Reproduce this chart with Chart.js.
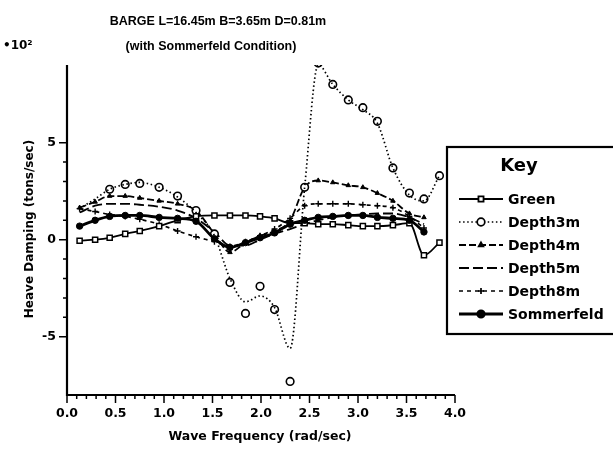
<!DOCTYPE html>
<html><head><meta charset="utf-8">
<script src="https://cdn.jsdelivr.net/npm/chart.js@4"></script>
<style>html,body{margin:0;padding:0;background:#fff}#c{display:block}</style>
</head><body>
<canvas id="c" width="613" height="456"></canvas>
<script>
// ---- data ----
const FREQ = [0.13,0.29,0.44,0.6,0.75,0.95,1.14,1.33,1.52,1.68,1.84,1.99,2.14,2.3,2.45,2.59,2.74,2.9,3.05,3.2,3.36,3.53,3.68,3.84];
const GREEN = [-0.05,0.0,0.1,0.3,0.45,0.7,1.0,1.2,1.25,1.25,1.25,1.2,1.1,0.85,0.85,0.8,0.8,0.75,0.7,0.7,0.75,0.85,-0.8,-0.15];
const DEPTH3M_CURVE = [1.6,2.1,2.6,2.85,2.95,2.7,2.2,1.4,0.2,-2.0,-3.2,-2.9,-3.5,-5.6,2.7,9.0,8.0,7.2,6.7,6.0,3.7,2.3,2.0,3.3];
const DEPTH3M_MARKS = [null,null,2.6,2.85,2.9,2.7,2.25,1.5,0.3,-2.2,-3.8,-2.4,-3.6,-7.3,2.7,9.1,8.0,7.2,6.8,6.1,3.7,2.4,2.1,3.3];
const DEPTH4M = [1.65,1.95,2.25,2.25,2.15,2.0,1.85,1.5,0.3,-0.65,-0.15,0.2,0.45,1.0,2.7,3.05,2.95,2.8,2.7,2.4,2.0,1.35,1.15];
const DEPTH5M = [1.4,1.75,1.85,1.85,1.8,1.7,1.5,1.1,0.4,-0.3,-0.3,0.0,0.3,0.55,0.8,1.0,1.15,1.25,1.3,1.35,1.35,1.15,0.8];
const DEPTH8M = [1.6,1.45,1.3,1.2,1.05,0.8,0.45,0.15,-0.1,-0.35,-0.1,0.2,0.55,1.1,1.75,1.85,1.85,1.85,1.8,1.75,1.65,1.2,0.6];
const SOMMERFELD = [0.7,1.0,1.2,1.25,1.25,1.15,1.1,0.95,0.05,-0.4,-0.15,0.1,0.35,0.8,1.0,1.15,1.2,1.25,1.25,1.15,1.1,1.0,0.4];
const X_LABELED = [0.0,0.5,1.0,1.5,2.0,2.5,3.0,3.5,4.0];
const Y_LABELED = [-5,0,5];
const TITLE_1 = 'BARGE L=16.45m B=3.65m D=0.81m';
const TITLE_2 = '(with Sommerfeld Condition)';
const Y_TITLE = 'Heave Damping (tons/sec)';
const X_TITLE = 'Wave Frequency (rad/sec)';
const Y_MULT = '•10²';
const LEGEND_TITLE = 'Key';
const SERIES_NAMES = ['Green','Depth3m','Depth4m','Depth5m','Depth8m','Sommerfeld'];

const pts = arr => arr.map((v,i)=>({x:FREQ[i], y:v}));

const styles = {
  Green:     {borderWidth:1.8, dash:[], pointStyle:'rect', r:3.6, fill:'#fff', pbw:1.5},
  Depth3m:   {borderWidth:1.7, dash:[1.5,2.6], pointStyle:'circle', r:3.8, fill:'#fff', pbw:1.6},
  Depth4m:   {borderWidth:1.8, dash:[7,3], pointStyle:'triangle', r:2.6, fill:'#000', pbw:1},
  Depth5m:   {borderWidth:1.8, dash:[10,4], pointStyle:false, r:0, fill:'#000', pbw:1},
  Depth8m:   {borderWidth:1.7, dash:[4,4], pointStyle:'cross', r:3, fill:'#000', pbw:1.4},
  Sommerfeld:{borderWidth:2.8, dash:[], pointStyle:'circle', r:3.2, fill:'#000', pbw:1}
};
function ds(name, data, extra){
  const s = styles[name];
  return Object.assign({label:name, data:pts(data), borderColor:'#000', borderWidth:s.borderWidth,
    borderDash:s.dash, pointStyle:s.pointStyle||'circle', pointRadius:s.r, pointBackgroundColor:s.fill,
    pointBorderColor:'#000', pointBorderWidth:s.pbw, cubicInterpolationMode:'monotone', fill:false}, extra||{});
}
const datasets = [
  ds('Sommerfeld', SOMMERFELD),
  ds('Green', GREEN),
  ds('Depth3m', DEPTH3M_CURVE, {pointRadius:0}),
  Object.assign(ds('Depth3m', DEPTH3M_MARKS), {label:'Depth3m points', showLine:false}),
  ds('Depth4m', DEPTH4M),
  ds('Depth5m', DEPTH5M),
  ds('Depth8m', DEPTH8M)
];

const decor = {
  id:'decor',
  afterDraw(chart){
    const {ctx, chartArea:a, scales:{x, y}} = chart;
    ctx.save();
    ctx.strokeStyle = '#000'; ctx.fillStyle = '#000';
    // axis lines
    ctx.lineWidth = 2.2;
    ctx.beginPath();
    ctx.moveTo(a.left, a.top); ctx.lineTo(a.left, a.bottom); ctx.lineTo(a.right, a.bottom);
    ctx.stroke();
    // tick marks
    ctx.lineWidth = 1.5;
    ctx.beginPath();
    x.ticks.forEach(t=>{
      const px = x.getPixelForValue(t.value);
      const major = X_LABELED.some(v=>Math.abs(v-t.value)<1e-6);
      ctx.moveTo(px, a.bottom); ctx.lineTo(px, a.bottom + (major?8:4));
    });
    y.ticks.forEach(t=>{
      if (Math.abs(t.value) > 5.0001) return;
      const py = y.getPixelForValue(t.value);
      const major = Y_LABELED.some(v=>Math.abs(v-t.value)<1e-6);
      ctx.moveTo(a.left, py); ctx.lineTo(a.left - (major?8:4), py);
    });
    ctx.stroke();
    // titles
    ctx.textAlign = 'center'; ctx.textBaseline = 'middle';
    ctx.font = 'bold 12.5px "Liberation Sans"';
    ctx.fillText(TITLE_1, 218, 22);
    ctx.fillText(TITLE_2, 211, 47);
    ctx.textAlign = 'left';
    ctx.font = 'bold 12px "DejaVu Sans"';
    ctx.fillText(Y_MULT, 3, 46);
    ctx.textAlign = 'center';
    ctx.font = 'bold 12.5px "DejaVu Sans"';
    ctx.fillText(X_TITLE, 260, 437);
    ctx.save();
    ctx.translate(30, 229); ctx.rotate(-Math.PI/2);
    ctx.font = 'bold 12px "DejaVu Sans"';
    ctx.fillText(Y_TITLE, 0, 0);
    ctx.restore();
    // legend box
    const bx = 447, by = 147, bw = 613 - 447 + 4, bh = 334 - 147;
    ctx.fillStyle = '#fff'; ctx.fillRect(bx, by, bw, bh);
    ctx.fillStyle = '#000';
    ctx.lineWidth = 2.2; ctx.strokeRect(bx, by, bw, bh);
    ctx.font = 'bold 18px "DejaVu Sans"';
    ctx.textAlign = 'center';
    ctx.fillText(LEGEND_TITLE, 519, 166);
    ctx.font = 'bold 14px "DejaVu Sans"';
    ctx.textAlign = 'left';
    SERIES_NAMES.forEach((name, i)=>{
      const s = styles[name];
      const ly = 199 + i*23;
      ctx.save();
      ctx.lineWidth = s.borderWidth; ctx.setLineDash(s.dash);
      ctx.beginPath(); ctx.moveTo(459, ly); ctx.lineTo(503, ly); ctx.stroke();
      ctx.setLineDash([]);
      ctx.fillStyle = s.fill; ctx.strokeStyle = '#000';
      if (s.pointStyle) Chart.helpers.drawPoint(ctx, {pointStyle:s.pointStyle, radius:s.r, rotation:0, borderWidth:s.pbw}, 481, ly);
      ctx.restore();
      ctx.fillText(name, 508, ly + 1);
    });
    ctx.restore();
  }
};

new Chart(document.getElementById('c'), {
  type:'line',
  data:{datasets},
  options:{
    responsive:false, animation:false, devicePixelRatio:1,
    layout:{padding:{top:65, right:158, left:0, bottom:0}},
    plugins:{legend:{display:false}, title:{display:false}, tooltip:{enabled:false}},
    elements:{line:{tension:0}},
    scales:{
      x:{type:'linear', min:0, max:4,
         afterFit(s){ s.height = 61; },
         grid:{display:false, drawTicks:false}, border:{display:false},
         ticks:{stepSize:0.1, autoSkip:false, maxRotation:0, padding:11, color:'#000',
           font:{family:'DejaVu Sans', size:12.5, weight:'bold'},
           callback(v){ return X_LABELED.some(t=>Math.abs(t-v)<1e-6) ? Number(v).toFixed(1) : ''; }}},
      y:{type:'linear', min:-8, max:9,
         afterFit(s){ s.width = 67; },
         grid:{display:false, drawTicks:false}, border:{display:false},
         ticks:{stepSize:1, autoSkip:false, padding:11, color:'#000',
           font:{family:'DejaVu Sans', size:12.5, weight:'bold'},
           callback(v){ return Y_LABELED.includes(v) ? String(v) : ''; }}}
    }
  },
  plugins:[decor]
});
</script>
</body></html>
